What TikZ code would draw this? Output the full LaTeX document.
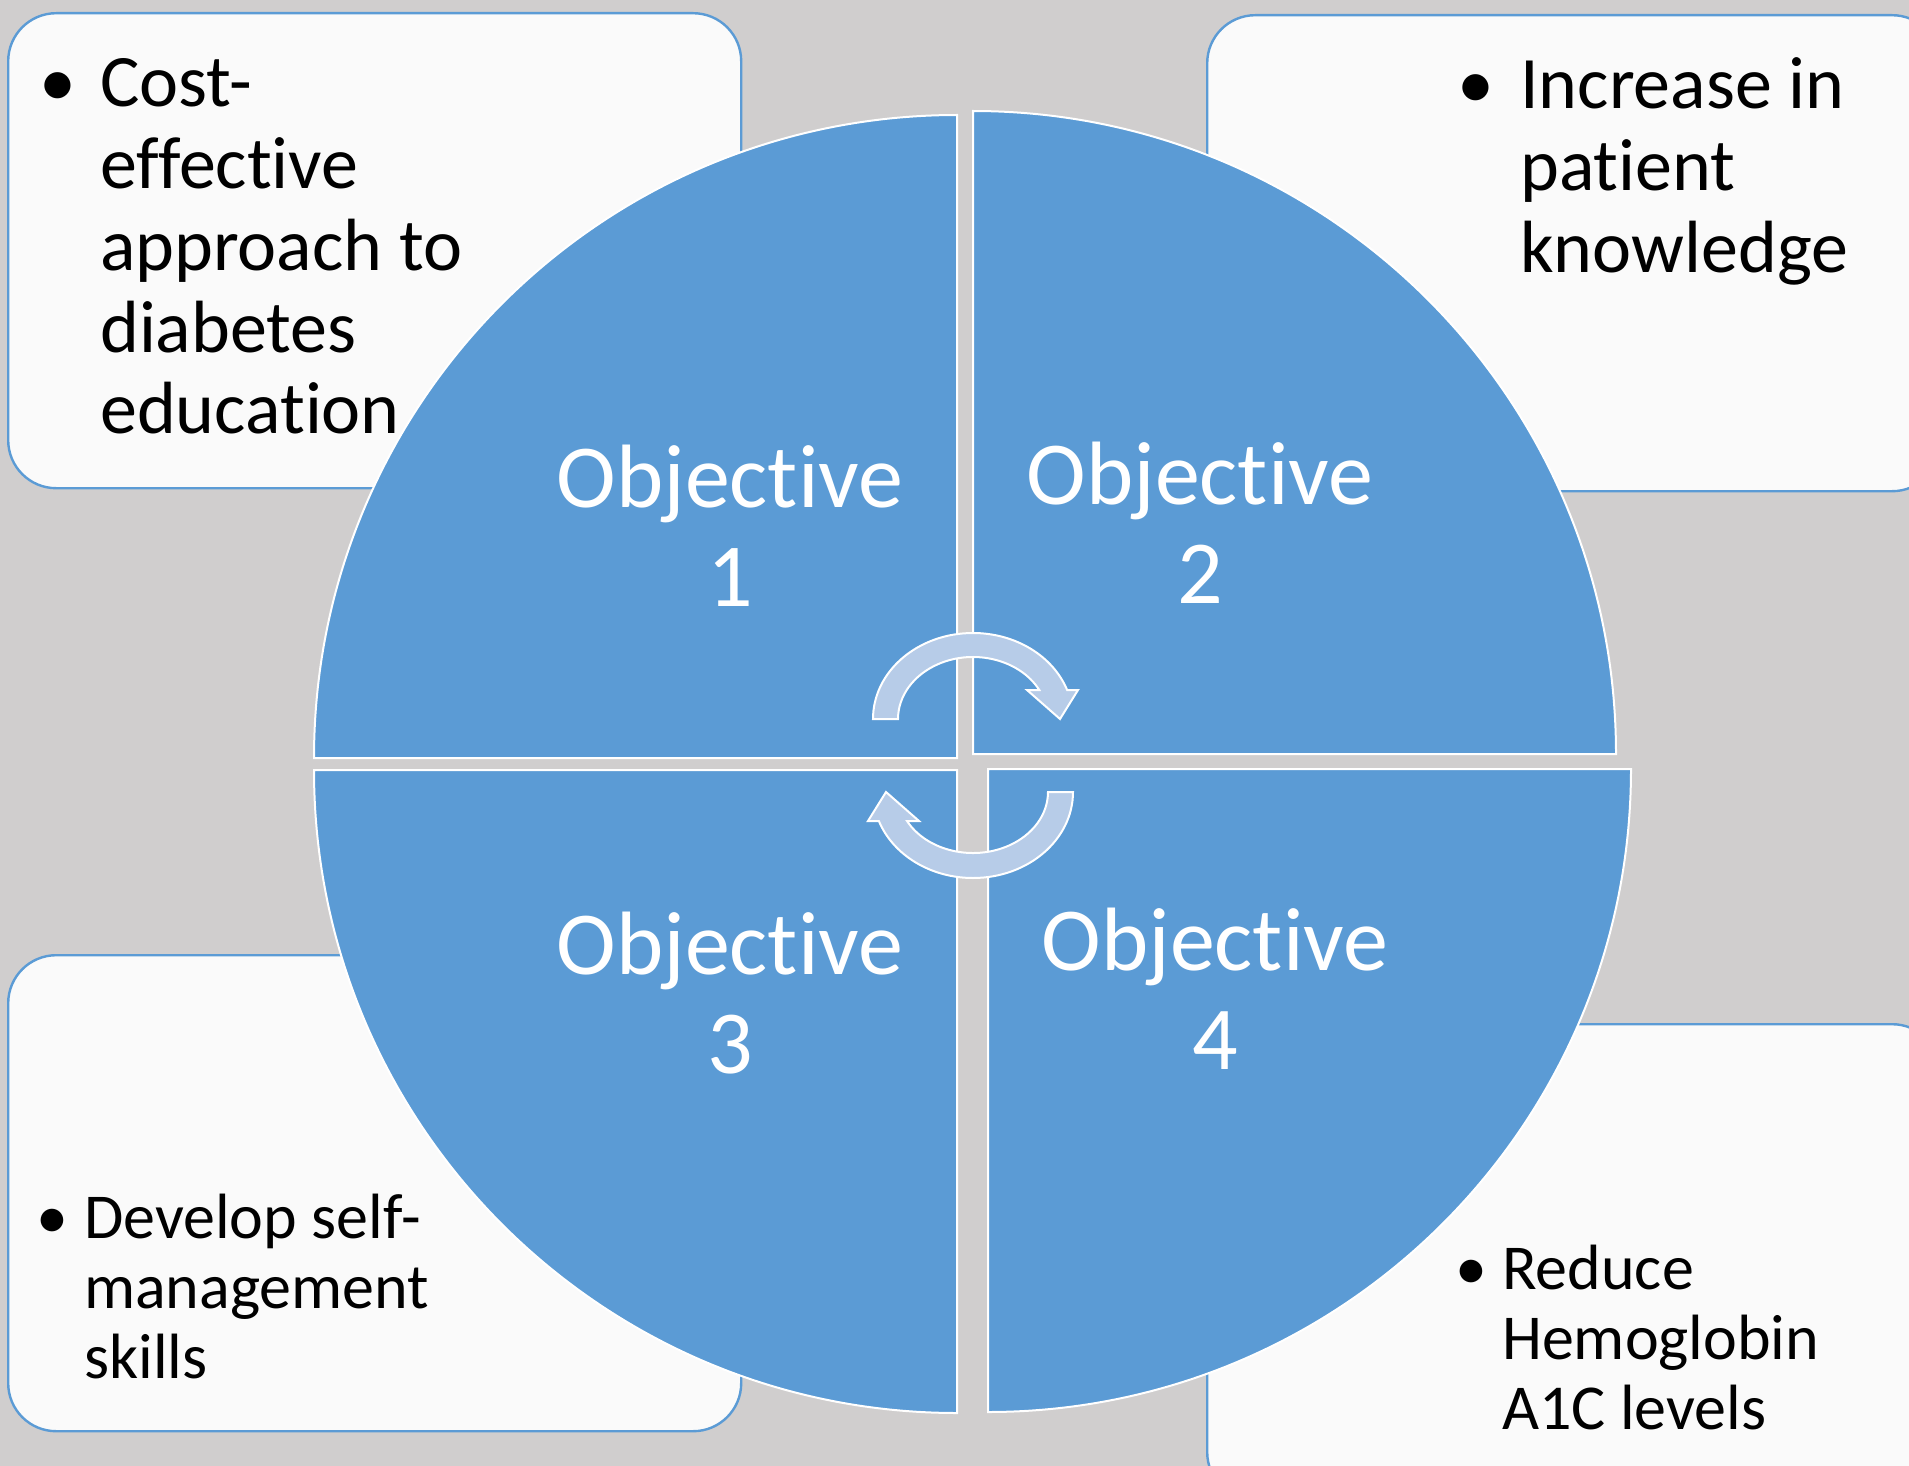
\documentclass[tikz,border=0pt]{standalone}
\usepackage{fontspec}
\setmainfont{Carlito}[Ligatures=NoCommon]
\definecolor{pagegray}{HTML}{D0CECE}
\definecolor{quadblue}{HTML}{5B9BD5}
\definecolor{boxwhite}{HTML}{FAFAFA}
\definecolor{arrowblue}{HTML}{B7CCE8}
% two centred lines whose reference point is the first baseline
\newcommand{\twolines}[2]{\vtop{\halign{\hfil##\hfil\cr #1\cr #2\cr}}}
\begin{document}
\begin{tikzpicture}[x=1pt,y=-1pt,
  infobox/.style={draw=quadblue, line width=2.4pt, fill=boxwhite,
    rounded corners=48pt, inner sep=0pt, anchor=north west},
  quad/.style={fill=quadblue, draw=white, line width=2pt},
  cyclearrow/.style={fill=arrowblue, draw=white, line width=2pt, line join=miter},
  bigtxt/.style={font=\fontsize{74}{81.7}\selectfont},
  smalltxt/.style={font=\fontsize{64}{70}\selectfont},
  linetxt/.style={anchor=base west, inner sep=0pt, text=black},
  dot/.style={anchor=base, inner sep=0pt, text=black},
  objtxt/.style={anchor=base, inner sep=0pt, text=white,
    font=\fontsize{90}{99.5}\selectfont}
]
\useasboundingbox (0,0) rectangle (1909,1466);
\fill[pagegray] (0,0) rectangle (1909,1466);
\clip (0,0) rectangle (1909,1466);

% corner boxes
\node[infobox, minimum width=733pt, minimum height=475pt] (boxA) at (7,12) {};
\node[infobox, minimum width=733pt, minimum height=476pt] (boxB) at (1206,14) {};
\node[infobox, minimum width=733pt, minimum height=476pt] (boxC) at (7,954) {};
\node[infobox, minimum width=733pt, minimum height=476pt] (boxD) at (1206,1023) {};

% bullet texts
\node[dot, bigtxt] (dotA) at (58,107) {•};
\node[linetxt, bigtxt] (txtA) at (100,107)
  {\vtop{\hbox{Cost-}\hbox{effective}\hbox{approach to}\hbox{diabetes}\hbox{education}}};
\node[dot, bigtxt] (dotB) at (1476,109) {•};
\node[linetxt, bigtxt] (txtB) at (1520,109)
  {\vtop{\hbox{Increase in}\hbox{patient}\hbox{knowledge}}};
\node[dot, smalltxt] (dotC) at (52,1238) {•};
\node[linetxt, smalltxt] (txtC) at (84,1238)
  {\vtop{\hbox{Develop self-}\hbox{management}\hbox{skills}}};
\node[dot, smalltxt] (dotD) at (1471,1289) {•};
\node[linetxt, smalltxt] (txtD) at (1502,1289)
  {\vtop{\hbox{Reduce}\hbox{Hemoglobin}\hbox{A1C levels}}};

% four quarters of the circle
\path[quad] (957,758) -- (957,115) arc[start angle=-90, end angle=-180, radius=643] -- cycle;
\path[quad] (973,754) -- (1616,754) arc[start angle=0, end angle=-90, radius=643] -- cycle;
\path[quad] (957,770) -- (314,770) arc[start angle=180, end angle=90, radius=643] -- cycle;
\path[quad] (988,769) -- (988,1412) arc[start angle=90, end angle=0, radius=643] -- cycle;

% cycle arrows in the middle
\path[cyclearrow] (873,719)
  arc[start angle=-180, end angle=-19.71, x radius=100, y radius=86]
  -- (1078,690) -- (1060,719) -- (1027,690) -- (1039.3,690)
  arc[start angle=-27.89, end angle=-180, x radius=75, y radius=62] -- cycle;
\path[cyclearrow] (1073,792)
  arc[start angle=0, end angle=160.29, x radius=100, y radius=86]
  -- (868,821) -- (886,792) -- (919,821) -- (907,821)
  arc[start angle=151.62, end angle=0, x radius=75, y radius=61] -- cycle;

% quarter labels
\node[objtxt] (obj1) at (730,507) {\twolines{Objective}{1}};
\node[objtxt] (obj2) at (1200,504) {\twolines{Objective}{2}};
\node[objtxt] (obj3) at (730,974) {\twolines{Objective}{3}};
\node[objtxt] (obj4) at (1215,970) {\twolines{Objective}{4}};
\end{tikzpicture}
\end{document}
